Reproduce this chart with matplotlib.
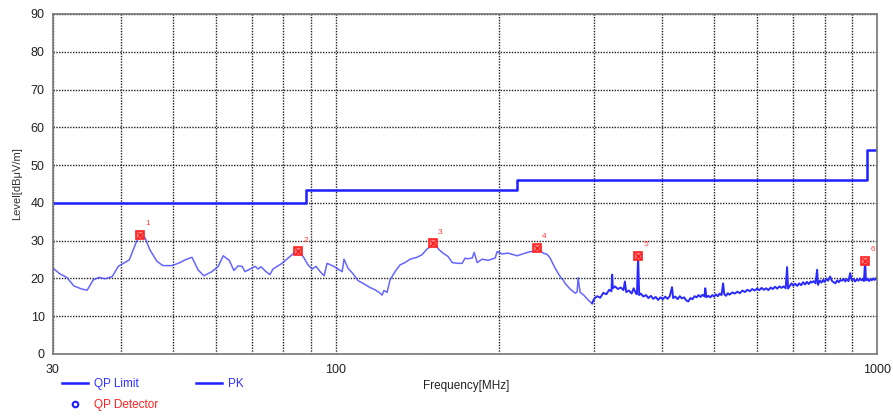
import numpy as np
import matplotlib
matplotlib.use("Agg")
import matplotlib.pyplot as plt
from matplotlib.ticker import FixedLocator, NullFormatter
from matplotlib.lines import Line2D

plt.rcParams['font.family'] = ['Liberation Sans', 'DejaVu Sans']

# QP limit line (step)
limit_freq = [30, 88, 88, 216, 216, 960, 960, 1000]
limit_level = [40, 40, 43.5, 43.5, 46, 46, 54, 54]

# PK trace, smooth part 30 - 300 MHz
pk_freq_low = [30.0, 30.9, 31.8, 32.8, 33.9, 34.7, 35.6, 36.5, 37.4, 38.6, 39.6, 41.5,
               42.7, 43.4, 44.4, 45.3, 46.7, 47.9, 49.8, 51.5, 52.6, 54.2, 55.6, 57.0,
               59.0, 60.6, 61.9, 63.5, 64.8, 65.9, 67.1, 67.9, 69.4, 70.9, 71.8, 72.7,
               74.0, 75.5, 76.5, 79.5, 81.6, 83.3, 85.1, 87.0, 88.8, 90.4, 91.9, 93.5,
               95.1, 96.3, 98.8, 100.9, 102.7, 103.5, 105.3, 107.6, 109.9, 112.3, 115.6,
               118.1, 120.2, 121.7, 122.7, 124.3, 125.9, 128.6, 131.4, 134.2, 137.1,
               141.2, 144.3, 147.4, 149.9, 151.0, 153.8, 155.1, 157.8, 161.2, 164.0,
               168.2, 171.1, 173.3, 174.8, 178.6, 180.1, 182.4, 186.3, 191.1, 196.9,
               198.6, 202.9, 208.1, 216.2, 223.7, 228.5, 231.4, 235.0, 241.5, 245.6,
               248.8, 254.2, 260.7, 263.0, 265.2, 270.9, 276.8, 279.1, 280.3, 282.7,
               287.0, 291.3, 294.0, 297.5]
pk_level_low = [22.7, 21.2, 20.3, 18.0, 17.2, 16.9, 19.6, 20.3, 19.9, 20.5, 23.2, 24.9,
                29.4, 31.6, 30.7, 27.6, 24.5, 23.4, 23.4, 24.2, 24.9, 25.6, 22.3, 20.7,
                21.8, 23.2, 26.0, 24.8, 22.1, 23.3, 23.2, 21.8, 22.5, 23.2, 22.5, 23.1,
                22.0, 21.0, 22.5, 24.0, 25.4, 26.5, 27.2, 25.8, 23.6, 22.5, 23.2, 21.8,
                20.7, 24.0, 23.3, 22.5, 21.8, 25.1, 22.7, 21.2, 19.4, 18.7, 17.6,
                17.0, 16.3, 15.6, 16.8, 16.3, 19.6, 21.8, 23.6, 24.2, 25.1,
                25.6, 26.3, 27.8, 28.5, 29.2, 28.3, 27.6, 26.7, 25.8, 24.2,
                24.0, 24.0, 25.4, 25.2, 25.4, 26.9, 24.2, 25.1, 24.8, 25.4,
                27.1, 26.5, 26.7, 26.0, 26.7, 27.1, 27.1, 28.1, 26.7, 26.4,
                25.4, 22.7, 20.1, 19.6, 18.7, 17.2, 16.1, 16.4, 20.2, 16.3,
                15.6, 14.6, 14.0, 13.4]

# PK trace, noisy part 300 - 1000 MHz
pk_freq_high = [300, 304, 308, 312, 316, 320, 323, 324, 325, 328, 332, 336, 340, 342,
                344, 348, 352, 355, 358, 360, 361.8, 363.5, 366, 370, 374, 378, 382,
                386, 390, 394, 398, 402, 406, 410, 414, 418, 420, 424, 428, 432, 436,
                440, 444, 448, 452, 456, 460, 464, 468, 472, 476, 480, 481.5, 484, 488,
                492, 496, 500, 504, 508, 512, 516, 519.5, 522, 526, 530, 534, 540, 546,
                552, 558, 564, 570, 576, 582, 588, 594, 600, 606, 612, 618, 624, 630,
                636, 642, 648, 654, 660, 666, 672, 678, 682, 685, 690, 695, 700, 706,
                712, 718, 724, 730, 736, 742, 748, 754, 758, 764, 770, 775, 778, 784,
                790, 795, 800, 806, 812, 819, 826, 832, 838, 844, 850, 856, 862, 868,
                874, 880, 886, 892, 898, 904, 911, 918, 924, 930, 936, 942, 946, 950.7,
                954, 960, 966, 972, 978, 984, 990, 996, 1000]
pk_level_high = [14.6, 15.3, 14.9, 16.2, 15.8, 17.0, 16.6, 21.0, 17.4, 17.9, 17.2, 17.6,
                 16.9, 19.2, 16.4, 16.8, 16.0, 17.4, 16.2, 15.8, 26.0, 15.6, 16.0, 15.2,
                 15.6, 14.8, 15.4, 14.6, 15.1, 14.3, 15.0, 14.5, 15.2, 14.6, 15.3, 17.7,
                 14.8, 15.2, 14.5, 15.3, 14.7, 15.0, 14.2, 13.9, 14.8, 14.5, 15.3, 15.0,
                 15.6, 15.1, 15.7, 15.2, 17.4, 15.0, 15.4, 15.0, 15.6, 15.2, 15.8, 15.3,
                 16.0, 15.6, 18.7, 15.8, 15.4, 16.1, 15.7, 16.3, 16.0, 16.5, 16.1, 16.8,
                 16.4, 17.0, 16.6, 17.2, 16.8, 17.3, 16.9, 17.5, 17.0, 17.4, 16.9, 17.6,
                 17.2, 17.8, 17.3, 17.9, 17.5, 17.9, 17.4, 23.0, 17.3, 18.0, 18.7, 18.1,
                 18.6, 18.0, 18.7, 18.2, 19.0, 18.4, 19.1, 18.5, 19.2, 18.9, 19.3, 18.7,
                 22.3, 18.3, 19.4, 18.9, 19.6, 19.1, 20.0, 19.4, 20.5, 19.3, 19.0, 18.7,
                 19.5, 19.0, 19.6, 19.4, 19.9, 19.2, 19.8, 19.3, 21.4, 19.5, 19.9, 19.2,
                 19.8, 19.4, 20.0, 19.5, 19.8, 19.3, 24.7, 19.5, 19.9, 19.3, 19.8, 19.5,
                 20.0, 19.6, 20.1, 19.8]

# QP detector marker points
qp_freq = [43.4, 85.1, 151.0, 235.0, 361.8, 950.7]
qp_level = [31.6, 27.2, 29.3, 28.1, 26.0, 24.7]
qp_labels = ['1', '2', '3', '4', '5', '6']

fig = plt.figure(figsize=(8.93, 4.16), dpi=100)
ax = fig.add_axes([53 / 893, 62 / 416, 824 / 893, 340 / 416])

ax.set_xscale('log')
ax.set_xlim(30, 1000)
ax.set_ylim(0, 90)

# grid
ax.xaxis.set_major_locator(FixedLocator([30, 100, 1000]))
ax.xaxis.set_minor_locator(FixedLocator([40, 50, 60, 70, 80, 90, 200, 300, 400, 500, 600, 700, 800, 900]))
ax.xaxis.set_minor_formatter(NullFormatter())
ax.set_xticklabels(['30', '100', '1000'])
ax.set_yticks(range(0, 91, 10))
ax.grid(True, which='both', axis='x', color='#222222', linestyle=(0, (1, 1)), linewidth=1.0)
ax.grid(True, which='major', axis='y', color='#222222', linestyle=(0, (1, 1)), linewidth=1.0)
ax.tick_params(which='both', length=0, labelsize=9, colors='#222222', pad=6)
ax.tick_params(axis='x', pad=7)
for s in ax.spines.values():
    s.set_color('#777777')
    s.set_linewidth(1.2)

ax.plot(limit_freq, limit_level, color='#1f1fff', linewidth=1.8)
ax.plot(pk_freq_low, pk_level_low, color='#4a4aff', linewidth=1.1, alpha=0.85)
ax.plot([pk_freq_low[-1]] + pk_freq_high, [pk_level_low[-1]] + pk_level_high,
        color='#2a2aff', linewidth=1.4)

# red marker symbols
ax.plot(qp_freq, qp_level, linestyle='none', marker='s', markersize=5.5,
        markerfacecolor='#ff8080', markeredgecolor='#ff2020', markeredgewidth=1.2)
ax.plot(qp_freq, qp_level, linestyle='none', marker='x', markersize=4.5,
        color='#ff2020', markeredgewidth=1.0)
for f, l, t in zip(qp_freq, qp_level, qp_labels):
    ax.annotate(t, (f, l), xytext=(5.5, 8), textcoords='offset points',
                fontsize=6, color='#ff4040', ha='center', va='center')

ax.set_ylabel('Level[dBμV/m]', fontsize=8, color='#333333', labelpad=6)
fig.text(466 / 893, 1 - 386 / 416, 'Frequency[MHz]', fontsize=8.5, color='#222222',
         ha='center', va='center')

# legend
h1 = Line2D([], [], color='#1f1fff', linewidth=1.8)
h2 = Line2D([], [], linestyle='none', marker='o', markersize=4, markerfacecolor='none',
            markeredgecolor='#1f1fff', markeredgewidth=1.5)
h3 = Line2D([], [], color='#1f1fff', linewidth=1.8)
leg = fig.legend([h1, h2, h3], ['QP Limit', 'QP Detector', 'PK'], ncol=2,
                 loc='upper left', bbox_to_anchor=(62 / 893, 1 - 378 / 416),
                 frameon=False, fontsize=8.5, handlelength=2.2, handletextpad=0.5,
                 columnspacing=3.2, labelspacing=0.8, borderpad=0, borderaxespad=0)
for txt, c in zip(leg.get_texts(), ['#3030ff', '#ff2020', '#3030ff']):
    txt.set_color(c)

fig.savefig('out.png', dpi=100)
